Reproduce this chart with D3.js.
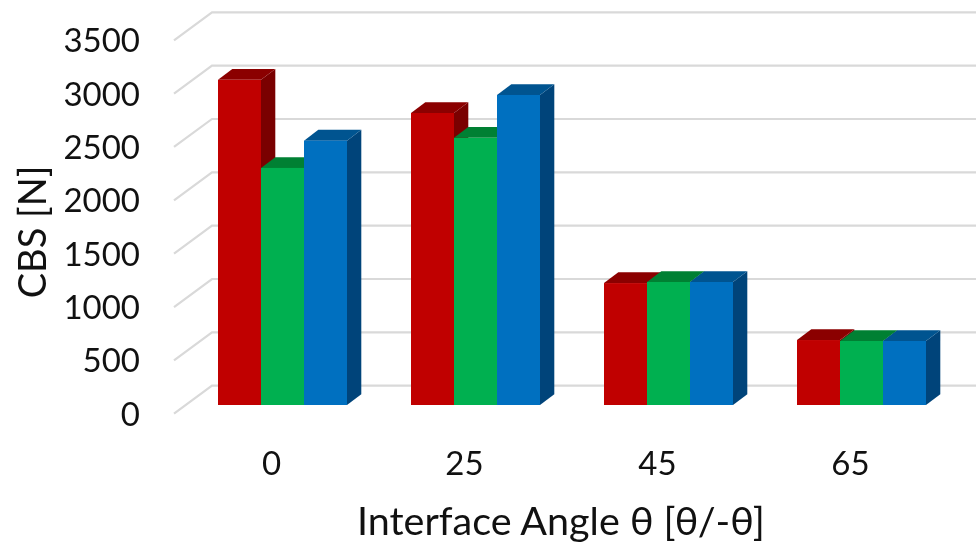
<!DOCTYPE html>
<html><head><meta charset="utf-8">
<script src="https://cdnjs.cloudflare.com/ajax/libs/d3/7.8.5/d3.min.js"></script>
<style>html,body{margin:0;padding:0;background:#fff}svg{display:block;filter:blur(.5px)}text{font-family:Lato,"Open Sans",sans-serif;fill:#111}</style>
</head><body><svg id="c" width="976" height="544"></svg>
<script>
const categories = ["0","25","45","65"];
const tickValues = [0,500,1000,1500,2000,2500,3000,3500];
const series1 = [3048,2737,1143,609];
const series2 = [2222,2504,1153,600];
const series3 = [2478,2906,1153,600];
const frontColors = ["#C00000","#00B050","#0070C0"];
const topColors = ["#8B0000","#008033","#005490"];
const sideColors = ["#7A0000","#006E2E","#00447A"];
const xTitle = "Interface Angle θ [θ/-θ]";
const yTitle = "CBS [N]";

const svg = d3.select("#c");
const x = d3.scaleBand().domain(categories).range([174,946]);
const y = d3.scaleLinear().domain([0,3500]).range([413.7,40.3]);
const wall = {dx:38, dy:-28};
const base = {dx:12, dy:-8.7};
const depth = {dx:14.3, dy:-10.8};
const barW = 43;

// gridlines: side wall + back wall
const grid = svg.append("g");
tickValues.forEach(v=>{
  grid.append("path")
    .attr("d", d3.line()([[x.range()[0],y(v)],[x.range()[0]+wall.dx,y(v)+wall.dy],[976,y(v)+wall.dy]]))
    .attr("fill","none").attr("stroke","#d9d9d9").attr("stroke-width",2.2);
});

// bars: left to right, each series' front hides the neighbour's side
const allSeries = [series1,series2,series3];
categories.forEach((c,i)=>{
  const g = svg.append("g");
  const x0 = Math.round(x(c) + x.bandwidth()/2 - 1.5*barW + base.dx);
  const y0 = y(0) + base.dy;
  const tops = allSeries.map(s=>y(s[i]) + base.dy);
  allSeries.forEach((_,k)=>{
    const xl = x0 + k*barW, xr = xl + barW, t = tops[k];
    g.append("path").attr("fill",sideColors[k])
      .attr("d",d3.line()([[xr,y0],[xr+depth.dx,y0+depth.dy],[xr+depth.dx,t+depth.dy],[xr,t]])+"Z");
    g.append("path").attr("fill",topColors[k])
      .attr("d",d3.line()([[xl,t],[xl+depth.dx,t+depth.dy],[xr+depth.dx,t+depth.dy],[xr,t]])+"Z");
    g.append("rect").attr("x",xl).attr("y",t).attr("width",barW).attr("height",y0-t).attr("fill",frontColors[k]);
  });
});

// axis labels
tickValues.forEach(v=>{
  svg.append("text").attr("x",140).attr("y",y(v)).attr("dy","0.36em")
    .attr("text-anchor","end").attr("font-size",33).text(v);
});
categories.forEach(c=>{
  svg.append("text").attr("x",x(c)+x.bandwidth()/2+1).attr("y",463).attr("dy","0.36em")
    .attr("text-anchor","middle").attr("font-size",33).text(c);
});
svg.append("text").attr("x",561).attr("y",521).attr("dy","0.36em")
  .attr("text-anchor","middle").attr("font-size",39.5).text(xTitle);
svg.append("text").attr("transform","translate(32,232) rotate(-90)").attr("dy","0.36em")
  .attr("text-anchor","middle").attr("font-size",38).text(yTitle);
</script></body></html>
